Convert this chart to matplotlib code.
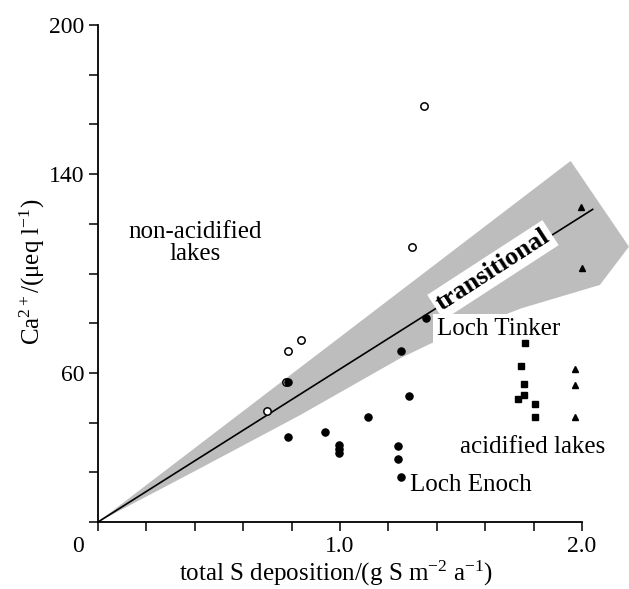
import matplotlib
matplotlib.use("Agg")
import matplotlib.pyplot as plt

plt.rcParams['font.family'] = ['Liberation Serif', 'DejaVu Serif']
plt.rcParams['mathtext.fontset'] = 'custom'
plt.rcParams['mathtext.rm'] = 'Liberation Serif'
plt.rcParams['mathtext.it'] = 'Liberation Serif:italic'
plt.rcParams['mathtext.bf'] = 'Liberation Serif:bold'

# ---- data ----
open_x = [0.697, 0.776, 0.785, 0.84, 1.298, 1.349]
open_y = [44.7, 56.2, 68.8, 73.2, 110.8, 167.4]
filled_x = [0.784, 0.786, 0.94, 0.996, 0.996, 0.996, 1.114, 1.24, 1.24, 1.25, 1.251, 1.286, 1.355]
filled_y = [56.2, 34.1, 36.4, 31.0, 29.3, 27.6, 42.2, 30.6, 25.5, 18.2, 68.9, 50.7, 82.0]
square_x = [1.764, 1.746, 1.760, 1.760, 1.737, 1.807, 1.807]
square_y = [71.9, 62.8, 55.4, 51.1, 49.5, 47.5, 42.4]
tri_x = [1.972, 1.972, 1.972, 1.996, 1.998]
tri_y = [61.6, 55.0, 42.4, 126.9, 102.1]

fit_x = [0.0, 2.044]
fit_y = [0.0, 125.8]

band_x = [0.0, 1.953, 2.194, 2.074, 1.75, 1.39, 1.251, 0.835, 0.42, 0.0]
band_y = [0.0, 145.3, 110.8, 95.4, 86.0, 72.5, 66.0, 43.0, 21.5, 0.0]

xticks = [0.0, 0.2, 0.4, 0.6, 0.8, 1.0, 1.2, 1.4, 1.6, 1.8, 2.0]
xticklabels = ['', '', '', '', '', '1.0', '', '', '', '', '2.0']
yticks = [0, 20, 40, 60, 80, 100, 120, 140, 160, 180, 200]
yticklabels = ['', '', '', '60', '', '', '', '140', '', '', '200']

W, H = 629, 589
fig = plt.figure(figsize=(W / 100, H / 100), dpi=100)
ax = fig.add_axes([98 / W, 1 - 522 / H, (582 - 98) / W, (522 - 25) / H])
ax.set_xlim(0, 2.0)
ax.set_ylim(0, 200)

for s in ['top', 'right']:
    ax.spines[s].set_visible(False)
for s in ['left', 'bottom']:
    ax.spines[s].set_linewidth(1.3)

ax.fill(band_x, band_y, facecolor='#bdbdbd', edgecolor='none', zorder=1, clip_on=False)
ax.plot(fit_x, fit_y, color='black', lw=1.2, zorder=2, clip_on=False)

ms_c = 5.3
ax.plot(open_x, open_y, 'o', ms=ms_c, mfc='white', mec='black', mew=1.1, zorder=5, clip_on=False)
ax.plot(filled_x, filled_y, 'o', ms=ms_c, mfc='black', mec='black', mew=0.8, zorder=6, clip_on=False)
ax.plot(square_x, square_y, 's', ms=4.6, mfc='black', mec='black', zorder=6, clip_on=False)
ax.plot(tri_x, tri_y, '^', ms=5.0, mfc='black', mec='black', zorder=6, clip_on=False)

ax.set_xticks(xticks)
ax.set_xticklabels(xticklabels)
ax.set_yticks(yticks)
ax.set_yticklabels(yticklabels)
ax.tick_params(axis='both', direction='out', length=6.5, width=1.1, labelsize=17, pad=3.5)

ax.text(-0.041, -0.05, '0', transform=ax.transAxes, ha='center', va='center', fontsize=17)

fig.text(336.5 / W, 1 - 581 / H, 'total S deposition/(g S m$^{-2}$ a$^{-1}$)',
         ha='center', va='baseline', fontsize=18)
fig.text(40 / W, 1 - 272 / H, 'Ca$^{2+}$/(μeq l$^{-1}$)', rotation=90, rotation_mode='anchor',
         ha='center', va='baseline', fontsize=18)

ax.text(0.40, 112.3, 'non-acidified\nlakes', ha='center', va='center', fontsize=18,
        linespacing=1.0, zorder=7)
ax.text(1.632, 101.4, 'transitional', ha='center', va='center', fontsize=19,
        fontweight='bold', rotation=33, rotation_mode='anchor', zorder=4,
        bbox=dict(facecolor='white', edgecolor='none', pad=2.5))
ax.text(1.40, 77.7, 'Loch Tinker', ha='left', va='center', fontsize=18, zorder=4,
        bbox=dict(facecolor='white', edgecolor='none', pad=2.5))
ax.text(1.289, 14.9, 'Loch Enoch', ha='left', va='center', fontsize=18, zorder=7)
ax.text(1.496, 30.0, 'acidified lakes', ha='left', va='center', fontsize=18, zorder=7)

fig.savefig('out.png', dpi=100)
